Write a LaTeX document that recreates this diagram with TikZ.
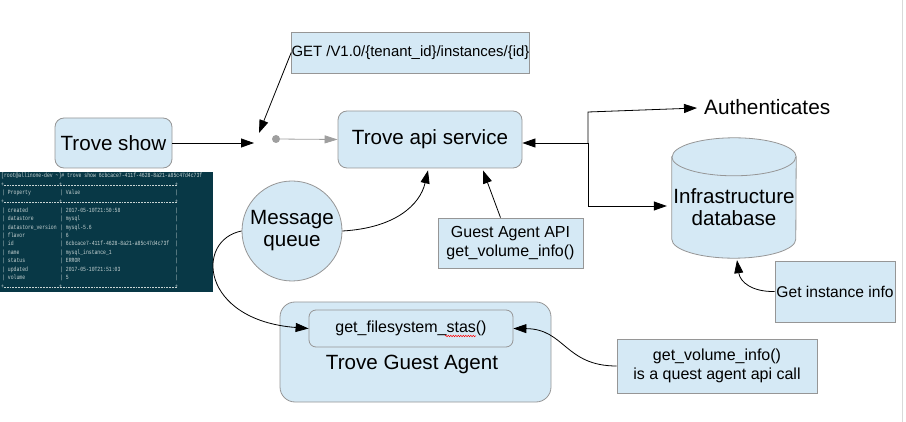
\documentclass[tikz,border=0pt]{standalone}
\usepackage{fontspec}
\setmainfont{Liberation Sans}
\newfontfamily\termfont{Liberation Mono}
\usetikzlibrary{arrows.meta,calc,decorations.pathmorphing}
\definecolor{boxblue}{RGB}{213,233,245}
\definecolor{boxline}{RGB}{150,150,150}
\definecolor{termbg}{RGB}{8,56,70}
\definecolor{termfg}{RGB}{200,212,212}
\begin{document}
\begin{tikzpicture}[x=1pt,y=-1pt,
  box/.style={draw=boxline,fill=boxblue,line width=0.8pt,inner sep=0pt},
  rbox/.style={box,rounded corners=9pt},
  big/.style={font=\fontsize{20.6}{22}\selectfont},
  small/.style={font=\fontsize{16}{18.5}\selectfont},
  arr/.style={-{Triangle[length=13pt,width=9pt]},line width=0.8pt},
  garr/.style={-{Triangle[length=13pt,width=8pt]},line width=0.8pt,draw=gray!75,color=gray!75},
  termtext/.style={font=\termfont\fontsize{6.3}{7}\selectfont,text=termfg,inner sep=0pt,anchor=west,xscale=0.76},
  sep/.style={draw=termfg,line width=0.5pt,dash pattern=on 1.8pt off 1pt}]
\path[use as bounding box] (0,0) rectangle (906,422);
\draw[gray!30,line width=0.8pt] (902,0) -- (902,422);

% terminal screenshot
\node[fill=termbg,minimum width=213pt,minimum height=120pt,inner sep=0pt] (term) at (106.5,232) {};
\node[termtext] (tcmd) at (1,176) {[root@allinone-dev \textasciitilde]\# trove show 6cbcace7-411f-4628-8a21-a85c47d4c73f};
\foreach \yy/\aa/\bb in {193/Property/Value,211/created/2017-05-10T21:50:58,219/datastore/mysql,228/datastore\_version/mysql-5.6,236/flavor/6,244/id/6cbcace7-411f-4628-8a21-a85c47d4c73f,253/name/mysql\_instance\_1,261/status/ERROR,270/updated/2017-05-10T21:51:03,278/volume/5}{
  \node[termtext] (ta\yy) at (2,\yy) {| \aa};
  \node[termtext] (tb\yy) at (60,\yy) {| \bb};
  \node[termtext] (tc\yy) at (175,\yy) {|};
}
\foreach \yy in {185,202,287}{
  \draw[sep] (4,\yy) -- (177,\yy);
  \node[termtext] (pa\yy) at (1,\yy) {+};
  \node[termtext] (pb\yy) at (59,\yy) {+};
  \node[termtext] (pc\yy) at (175,\yy) {+};
}

% main nodes
\node[rbox,big,minimum width=117pt,minimum height=50pt] (show) at (113.5,143) {Trove show};
\node[rbox,big,minimum width=184pt,minimum height=57pt] (api) at (430,139.5) {Trove api service};
\node[box,font=\fontsize{14.9}{17}\selectfont,minimum width=237pt,minimum height=41pt] (get) at (410.5,52.5) {GET /V1.0/\{tenant\_id\}/instances/\{id\}};
\node[circle,draw=boxline,fill=boxblue,line width=0.8pt,minimum size=100pt,inner sep=0pt,big,align=center] (mq) at (292,231) {Message\\queue};
\node[box,small,align=center,minimum width=145pt,minimum height=50pt] (ga) at (510.5,243) {Guest Agent API\\get\_volume\_info()};
\node[box,rounded corners=15pt,minimum width=271pt,minimum height=100pt] (tga) at (415.5,352) {};
\node[box,rounded corners=7pt,small,minimum width=204pt,minimum height=37pt] (gfs) at (411,328.5) {get\_filesystem\_stas()};
\node[big,inner sep=0pt] (tgal) at (412,364) {Trove Guest Agent};
\node[box,small,align=center,minimum width=200pt,minimum height=54pt] (qa) at (717,366) {get\_volume\_info()\\is a quest agent api call};
\node[box,font=\fontsize{15.6}{18}\selectfont,minimum width=120pt,minimum height=61pt] (gi) at (835,291.5) {Get instance info};
\node[font=\fontsize{20.8}{22}\selectfont,inner sep=0pt,anchor=west] (auth) at (704,107) {Authenticates};

% database cylinder
\node[inner sep=0pt,minimum width=124pt,minimum height=101pt] (db) at (734,207.5) {};
\draw[boxline,fill=boxblue,line width=0.8pt] (db.north west) -- ($(db.south west)+(0,-19)$) arc[start angle=180,end angle=360,x radius=62pt,y radius=19pt] -- (db.north east) arc[start angle=0,end angle=180,x radius=62pt,y radius=19pt] -- cycle;
\draw[boxline,line width=0.8pt] (db.north west) arc[start angle=180,end angle=360,x radius=62pt,y radius=19pt];
\node[big,align=center,inner sep=0pt] (dbtext) at (db.center) {Infrastructure\\database};

% connectors
\coordinate (hub) at (254,143);
\draw[arr] (show.east) -- (hub);
\coordinate (hubtop) at (259,133);
\draw[arr] (get.west) -- (hubtop);
\node[circle,fill=gray!75,inner sep=0pt,minimum size=8pt] (dot) at (276,139) {};
\draw[garr] (dot) -- (api.west);

\coordinate (j) at (588,143);
\coordinate (ju) at (588,112);
\draw[arr] (j) -- (j -| api.east);
\draw[arr] (j) -- (ju) -- ($(auth.west)+(-7,1)$);
\draw[arr] (j) |- ($(db.west)+(-5,-1.5)$);

\draw[arr] (gi.west) .. controls (752,292) and (740,282) .. ($(db.south)+(3,2)$);
\draw[arr] (mq.east) .. controls (395,228) and (420,205) .. ($(api.south)+(-2,2)$);
\draw[arr] ($(ga.north)+(-10,0)$) -- ($(api.south)+(53,2)$);
\draw[arr] (mq.west) .. controls (195,240) and (200,320) .. (gfs.west);
\draw[arr] (qa.west) .. controls (565,366) and (565,329) .. (gfs.east);

% spell-check underline
\draw[red,line width=0.5pt,decorate,decoration={snake,amplitude=0.7pt,segment length=2.5pt}] ($(gfs.center)+(34,7.5)$) -- ($(gfs.center)+(65,7.5)$);
\end{tikzpicture}
\end{document}
